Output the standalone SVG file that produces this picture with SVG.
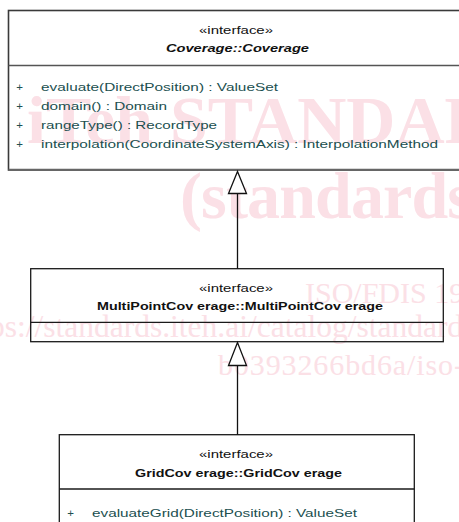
<svg xmlns="http://www.w3.org/2000/svg" width="459" height="522" viewBox="0 0 459 522">
  <style>
    .wm { fill: #fbe0e6; font-family: "Liberation Serif", serif; }
    .wmb { font-weight: bold; }
    .box { fill: none; stroke: #1a1a1a; stroke-width: 1.3; }
    .div { stroke: #1a1a1a; stroke-width: 1.3; }
    .st { font-family: "Liberation Sans", Arial, sans-serif; font-size: 11.5px; fill: #111; }
    .nm { font-family: "Liberation Sans", Arial, sans-serif; font-size: 11.5px; font-weight: bold; fill: #111; }
    .op { font-family: "Liberation Sans", Arial, sans-serif; font-size: 11.5px; fill: #214f4f; }
    .conn { stroke: #111; stroke-width: 1.3; fill: none; }
    .head { fill: #fff; stroke: #111; stroke-width: 1.3; stroke-linejoin: miter; }
  </style>

  <rect x="0" y="0" width="459" height="522" fill="#fff"/>

  <g id="watermark">
    <text class="wm wmb" x="27" y="143" font-size="68">iTeh STANDARD</text>
    <text class="wm wmb" x="180" y="218" font-size="66" textLength="293" lengthAdjust="spacing">(standards</text>
    <text class="wm" x="305" y="303" font-size="30">ISO/FDIS 19</text>
    <text class="wm" x="-11" y="337" font-size="31.5">ps://standards.iteh.ai/catalog/standard</text>
    <text class="wm" x="218" y="375" font-size="30" textLength="246" lengthAdjust="spacing">b0393266bd6a/iso-</text>
  </g>

  <g id="coverage">
    <rect x="8.5" y="10.5" width="470" height="159.5" fill="none" stroke="#3a3a3a" stroke-width="1.6"/>
    <line x1="8.5" y1="65.5" x2="470" y2="65.5" stroke="#555" stroke-width="1.6"/>
    <line x1="8.5" y1="169.8" x2="470" y2="169.8" stroke="#666" stroke-width="2.2"/>
    <text class="st" x="199" y="34" textLength="74" lengthAdjust="spacingAndGlyphs">«interface»</text>
    <text class="nm" x="166" y="51.5" font-style="italic" textLength="143" lengthAdjust="spacingAndGlyphs">Coverage::Coverage</text>
    <text class="op" x="19.5" y="90.5" text-anchor="middle">+</text>
    <text class="op" x="41" y="90.5" textLength="237" lengthAdjust="spacingAndGlyphs">evaluate(DirectPosition) : ValueSet</text>
    <text class="op" x="19.5" y="109.5" text-anchor="middle">+</text>
    <text class="op" x="41" y="109.5" textLength="126" lengthAdjust="spacingAndGlyphs">domain() : Domain</text>
    <text class="op" x="19.5" y="128.5" text-anchor="middle">+</text>
    <text class="op" x="41" y="128.5" textLength="176" lengthAdjust="spacingAndGlyphs">rangeType() : RecordType</text>
    <text class="op" x="19.5" y="147.5" text-anchor="middle">+</text>
    <text class="op" x="41" y="147.5" textLength="397" lengthAdjust="spacingAndGlyphs">interpolation(CoordinateSystemAxis) : InterpolationMethod</text>
  </g>

  <g id="multipointcoverage">
    <rect class="box" x="30.7" y="268.7" width="412.6" height="73"/>
    <line class="div" x1="30.7" y1="322.3" x2="443.3" y2="322.3"/>
    <text class="st" x="199" y="292" textLength="74" lengthAdjust="spacingAndGlyphs">«interface»</text>
    <text class="nm" x="97" y="310" textLength="286" lengthAdjust="spacingAndGlyphs">MultiPointCov erage::MultiPointCov erage</text>
  </g>

  <g id="gridcoverage">
    <rect class="box" x="59.3" y="434.7" width="355" height="100"/>
    <line class="div" x1="59.3" y1="489" x2="414.3" y2="489"/>
    <text class="st" x="199" y="458" textLength="74" lengthAdjust="spacingAndGlyphs">«interface»</text>
    <text class="nm" x="135" y="477" textLength="207" lengthAdjust="spacingAndGlyphs">GridCov erage::GridCov erage</text>
    <text class="op" x="70.5" y="516.5" text-anchor="middle">+</text>
    <text class="op" x="92" y="516.5" textLength="265" lengthAdjust="spacingAndGlyphs">evaluateGrid(DirectPosition) : ValueSet</text>
  </g>

  <g id="connectors">
    <line class="conn" x1="237.5" y1="193.5" x2="237.5" y2="268.7"/>
    <polygon class="head" points="237.5,171.5 228.5,193.5 246.5,193.5"/>
    <line class="conn" x1="237.5" y1="365.5" x2="237.5" y2="434.7"/>
    <polygon class="head" points="237.5,342.5 228.5,365.5 246.5,365.5"/>
  </g>
</svg>
